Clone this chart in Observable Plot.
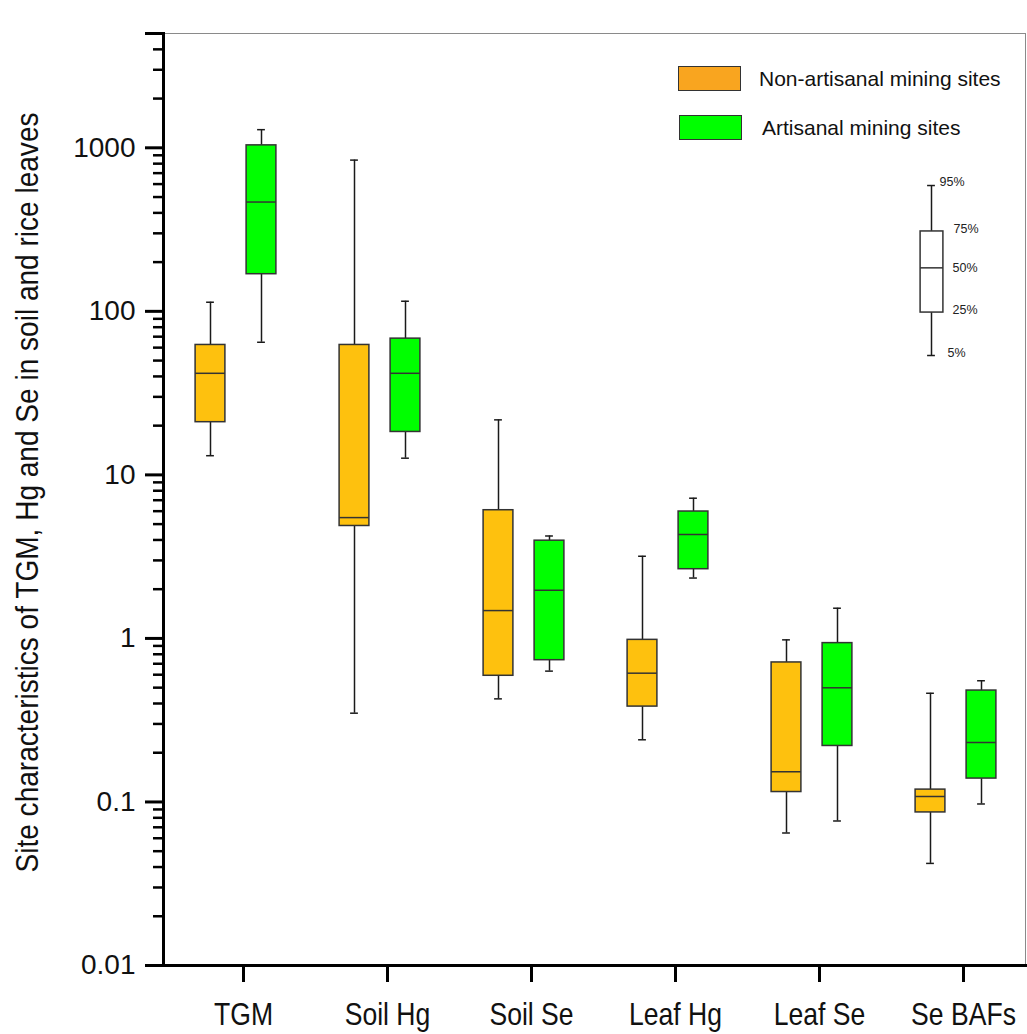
<!DOCTYPE html>
<html>
<head>
<meta charset="utf-8">
<script src="https://cdn.jsdelivr.net/npm/d3@7"></script>
<script src="https://cdn.jsdelivr.net/npm/@observablehq/plot@0.6"></script>
<style>
  body { margin: 0; background: #fff; }
  #wrap { position: relative; width: 1027px; height: 1034px; }
  svg { display: block; }
  .lg { position: absolute; font-family: "Liberation Sans", Arial, sans-serif; font-size: 21px; color: #111; }
  .sw { position: absolute; width: 63px; height: 25px; border: 1px solid #333; box-sizing: border-box; }
</style>
</head>
<body>
<div id="wrap"></div>
<script>
// ---- data ----
const categories = ["TGM", "Soil Hg", "Soil Se", "Leaf Hg", "Leaf Se", "Se BAFs"];
const groups = ["Non-artisanal mining sites", "Artisanal mining sites"];
const boxColors = ["#FEC10E", "#00FF00"];
const legendColors = ["#F9A51F", "#00FF00"];

// percentiles (5, 25, 50, 75, 95) for non-artisanal sites
const nonArtP5  = [13.1, 0.349, 0.427, 0.240, 0.0646, 0.0421];
const nonArtP25 = [21.0, 4.87, 0.591, 0.383, 0.115, 0.0863];
const nonArtP50 = [41.8, 5.48, 1.48, 0.613, 0.153, 0.108];
const nonArtP75 = [62.3, 62.3, 6.08, 0.98, 0.713, 0.119];
const nonArtP95 = [113.7, 841, 21.7, 3.18, 0.98, 0.462];
// percentiles for artisanal sites
const artP5  = [64.7, 12.65, 0.631, 2.34, 0.0765, 0.0972];
const artP25 = [168.7, 18.3, 0.736, 2.65, 0.220, 0.139];
const artP50 = [466, 41.8, 1.97, 4.32, 0.499, 0.231];
const artP75 = [1035, 68.1, 3.96, 5.97, 0.936, 0.480];
const artP95 = [1291, 115.3, 4.23, 7.20, 1.53, 0.551];

// percentile key box
const keyCategory = "Se BAFs";
const keyLabels = ["5%", "25%", "50%", "75%", "95%"];
const keyValues = [53.7, 98.3, 184.5, 308, 588];

// axis ticks
const majorTicks = [0.01, 0.1, 1, 10, 100, 1000, 5000];
const majorTickLabels = ["0.01", "0.1", "1", "10", "100", "1000", "5000"];
const minorTicks = [];
for (const e of [-2, -1, 0, 1, 2, 3]) for (let k = 2; k <= 9; k++) {
  const v = +(k * Math.pow(10, e)).toPrecision(3);
  if (v < 5000) minorTicks.push(v);
}

const yLabel = "Site characteristics of TGM, Hg and Se in soil and rice leaves";

// ---- tables built from the arrays ----
const nonArt = categories.map((c, i) => ({category: c, p5: nonArtP5[i], p25: nonArtP25[i], p50: nonArtP50[i], p75: nonArtP75[i], p95: nonArtP95[i]}));
const art = categories.map((c, i) => ({category: c, p5: artP5[i], p25: artP25[i], p50: artP50[i], p75: artP75[i], p95: artP95[i]}));
const key = [{category: keyCategory, p5: keyValues[0], p25: keyValues[1], p50: keyValues[2], p75: keyValues[3], p95: keyValues[4]}];
const keyText = keyLabels.map((l, i) => ({category: keyCategory, label: l, v: keyValues[i]}));

// layout / style
const BAND = 144.2;
const half = BAND / 2;
function boxMarks(data, o) {
  const bl = half + o.left, br = half - o.right;
  const cl = half + o.wx - o.cap, cr = half - o.wx - o.cap;
  return [
    Plot.ruleX(data, {x: "category", y1: "p5", y2: "p25", dx: o.wx, stroke: "#1a1a1a", strokeWidth: 1.5}),
    Plot.ruleX(data, {x: "category", y1: "p75", y2: "p95", dx: o.wx, stroke: "#1a1a1a", strokeWidth: 1.5}),
    Plot.tickY(data, {x: "category", y: "p5", insetLeft: cl, insetRight: cr, stroke: "#1a1a1a", strokeWidth: 1.5}),
    Plot.tickY(data, {x: "category", y: "p95", insetLeft: cl, insetRight: cr, stroke: "#1a1a1a", strokeWidth: 1.5}),
    Plot.barY(data, {x: "category", y1: "p25", y2: "p75", insetLeft: bl, insetRight: br, fill: o.fill, stroke: "#333", strokeWidth: 1.5}),
    Plot.tickY(data, {x: "category", y: "p50", insetLeft: bl, insetRight: br, stroke: "#333", strokeWidth: 1.5})
  ];
}

const chart = Plot.plot({
  width: 1027,
  height: 1034,
  marginTop: 33,
  marginBottom: 69,
  marginLeft: 163,
  marginRight: 2,
  style: {fontFamily: "'Liberation Sans', Arial, sans-serif", background: "#fff", color: "#111"},
  x: {type: "band", domain: categories, range: [243 - half, 243 + 5 * BAND + half], padding: 0},
  y: {type: "log", domain: [0.01, 5000]},
  marks: [
    Plot.frame({stroke: "#8a8a8a", strokeWidth: 1}),
    Plot.axisY({ticks: minorTicks, tickSize: 10, tickFormat: () => "", strokeWidth: 2.5, stroke: "#000", label: null}),
    Plot.axisY({ticks: majorTicks, tickSize: 18, tickPadding: 10, tickFormat: d => majorTickLabels[majorTicks.indexOf(d)], fontSize: 28, strokeWidth: 3, stroke: "#000", fill: "#111", label: null}),
    Plot.axisX({tickSize: 17, tickPadding: 20, fontSize: 32, strokeWidth: 3, stroke: "#000", fill: "#111", label: null}),
    Plot.frame({anchor: "left", stroke: "#000", strokeWidth: 3}),
    Plot.frame({anchor: "bottom", stroke: "#000", strokeWidth: 3}),
    ...boxMarks(nonArt, {left: -48, right: -18, wx: -33, cap: 4, fill: boxColors[0]}),
    ...boxMarks(art, {left: 3, right: 33, wx: 18, cap: 4, fill: boxColors[1]}),
    ...boxMarks(key, {left: -43, right: -20, wx: -32, cap: 4, fill: "#fff"}),
    Plot.text(keyText, {x: "category", y: "v", text: "label", textAnchor: "start", fontSize: 12.5, fill: "#222"}),
    Plot.text([yLabel], {frameAnchor: "left", textAnchor: "middle", lineAnchor: "middle", rotate: -90, dx: -136, dy: -7, fontSize: 32, fill: "#111", text: d => d})
  ]
});

document.getElementById("wrap").appendChild(chart);

// key label offsets (style only)
const keyDx = {"95%": -24, "75%": -10, "50%": -11, "25%": -11, "5%": -16};
const keyDy = {"95%": -4, "75%": -2, "50%": 0, "25%": -3, "5%": -3};
chart.querySelectorAll("text").forEach(t => {
  const s = t.textContent;
  if (s in keyDx) {
    t.setAttribute("dx", keyDx[s]);
    t.setAttribute("dy", keyDy[s] + "");
  }
  if (s === yLabel) {
    t.setAttribute("textLength", 760);
    t.setAttribute("lengthAdjust", "spacingAndGlyphs");
  }
  if (categories.includes(s)) {
    const w = t.getComputedTextLength();
    t.setAttribute("textLength", (w * 0.83).toFixed(1));
    t.setAttribute("lengthAdjust", "spacingAndGlyphs");
  }
});

// legend
const wrap = document.getElementById("wrap");
const legendPos = [{top: 66, text: 79}, {top: 115, text: 128}];
groups.forEach((g, i) => {
  const sw = document.createElement("div");
  sw.className = "sw";
  sw.style.left = (678 + i) + "px";
  sw.style.top = legendPos[i].top + "px";
  sw.style.background = legendColors[i];
  wrap.appendChild(sw);
  const tx = document.createElement("div");
  tx.className = "lg";
  tx.textContent = g;
  tx.style.left = (759 + 3 * i) + "px";
  tx.style.top = (legendPos[i].text - 12) + "px";
  tx.style.lineHeight = "24px";
  wrap.appendChild(tx);
});
</script>
</body>
</html>
